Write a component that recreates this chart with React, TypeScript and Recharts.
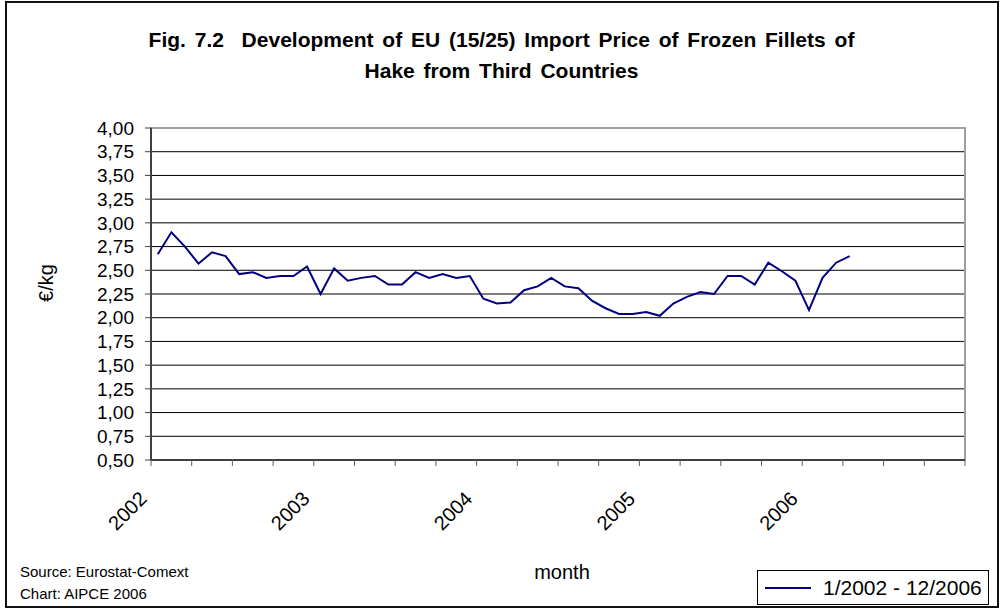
import { LineChart, Line, XAxis, YAxis, CartesianGrid, ReferenceArea } from "recharts"

// monthly import price, €/kg, Jan 2002 .. Apr 2006
const prices = [
  2.67, 2.9, 2.75, 2.57, 2.69, 2.65, 2.46, 2.48, 2.42, 2.44, 2.44, 2.54,
  2.25, 2.52, 2.39, 2.42, 2.44, 2.35, 2.35, 2.48, 2.42, 2.46, 2.42, 2.44,
  2.2, 2.15, 2.16, 2.29, 2.33, 2.42, 2.33, 2.31, 2.18, 2.1, 2.04, 2.04,
  2.06, 2.02, 2.15, 2.22, 2.27, 2.25, 2.44, 2.44, 2.35, 2.58, 2.49, 2.39,
  2.08, 2.42, 2.58, 2.65,
]

const years = ["2002", "2003", "2004", "2005", "2006"]
const yTicks = [0.5, 0.75, 1, 1.25, 1.5, 1.75, 2, 2.25, 2.5, 2.75, 3, 3.25, 3.5, 3.75, 4]
const monthCount = 60
const quarterTicks = Array.from({ length: monthCount / 3 + 1 }, (_, i) => i * 3)

const data = prices.map((price, i) => ({
  x: i + 0.5,
  month: `${(i % 12) + 1}/${years[Math.floor(i / 12)]}`,
  price,
}))

const font = '"Liberation Sans", Arial, sans-serif'

function YearTick(props: any) {
  const { x, payload } = props
  const v = payload.value as number
  if (v % 12 !== 0) return null
  const label = years[v / 12]
  if (!label) return null
  const ax = x - 3
  const ay = 500
  return (
    <text
      x={ax}
      y={ay}
      transform={`rotate(-45, ${ax}, ${ay})`}
      textAnchor="end"
      fontSize={20}
      fontFamily={font}
      fill="#000"
    >
      {label}
    </text>
  )
}

export default function App() {
  return (
    <div
      style={{
        position: "absolute",
        left: 0,
        top: 0,
        width: 1001,
        height: 608,
        background: "#fff",
        fontFamily: font,
      }}
    >
      <div
        style={{
          position: "absolute",
          left: 5,
          top: 1,
          width: 990,
          height: 603,
          border: "2px solid #111",
        }}
      />
      <div
        style={{
          position: "absolute",
          left: 0,
          top: 24,
          width: 1003,
          textAlign: "center",
          fontWeight: "bold",
          fontSize: 21,
          lineHeight: "31px",
          wordSpacing: 3,
        }}
      >
        Fig. 7.2&nbsp; Development of EU (15/25) Import Price of Frozen Fillets of
        <br />
        Hake from Third Countries
      </div>

      <LineChart
        width={1001}
        height={608}
        data={data}
        margin={{ top: 128, right: 36, bottom: 108, left: 71 }}
        style={{ position: "absolute", left: 0, top: 0 }}
      >
        <CartesianGrid horizontal vertical={false} stroke="#000" strokeWidth={1} />
        <XAxis
          type="number"
          dataKey="x"
          domain={[0, monthCount]}
          ticks={quarterTicks}
          interval={0}
          height={40}
          axisLine={{ stroke: "#404040", strokeWidth: 2 }}
          tickLine={{ stroke: "#606060" }}
          tickSize={6}
          tick={<YearTick />}
        />
        <YAxis
          type="number"
          domain={[0.5, 4]}
          ticks={yTicks}
          interval={0}
          width={80}
          axisLine={{ stroke: "#404040", strokeWidth: 2 }}
          tickLine={{ stroke: "#404040" }}
          tickSize={6}
          tickMargin={11}
          tickFormatter={(v: number) => v.toFixed(2).replace(".", ",")}
          tick={{ fontSize: 19, fill: "#000", fontFamily: font }}
        />
        <ReferenceArea
          x1={0}
          x2={monthCount}
          y1={0.5}
          y2={4}
          fill="none"
          stroke="#a0a0a0"
          strokeWidth={2}
        />
        <Line
          type="linear"
          dataKey="price"
          stroke="#000080"
          strokeWidth={2}
          dot={false}
          isAnimationActive={false}
        />
      </LineChart>

      <div
        style={{
          position: "absolute",
          left: 46,
          top: 283,
          fontSize: 20,
          whiteSpace: "nowrap",
          transform: "translate(-50%, -50%) rotate(-90deg)",
        }}
      >
        €/kg
      </div>
      <div
        style={{
          position: "absolute",
          left: 562,
          top: 572,
          fontSize: 20,
          transform: "translate(-50%, -50%)",
        }}
      >
        month
      </div>
      <div style={{ position: "absolute", left: 20, top: 561, fontSize: 15, lineHeight: "21.5px" }}>
        Source: Eurostat-Comext
        <br />
        Chart: AIPCE 2006
      </div>
      <div
        style={{
          position: "absolute",
          left: 757,
          top: 570,
          width: 232,
          height: 35,
          border: "1px solid #000",
          boxSizing: "border-box",
          display: "flex",
          alignItems: "center",
          fontSize: 21,
          whiteSpace: "nowrap",
        }}
      >
        <span style={{ display: "inline-block", width: 46, height: 2, background: "#000080", marginLeft: 7, marginRight: 12 }} />
        1/2002 - 12/2006
      </div>
    </div>
  )
}
